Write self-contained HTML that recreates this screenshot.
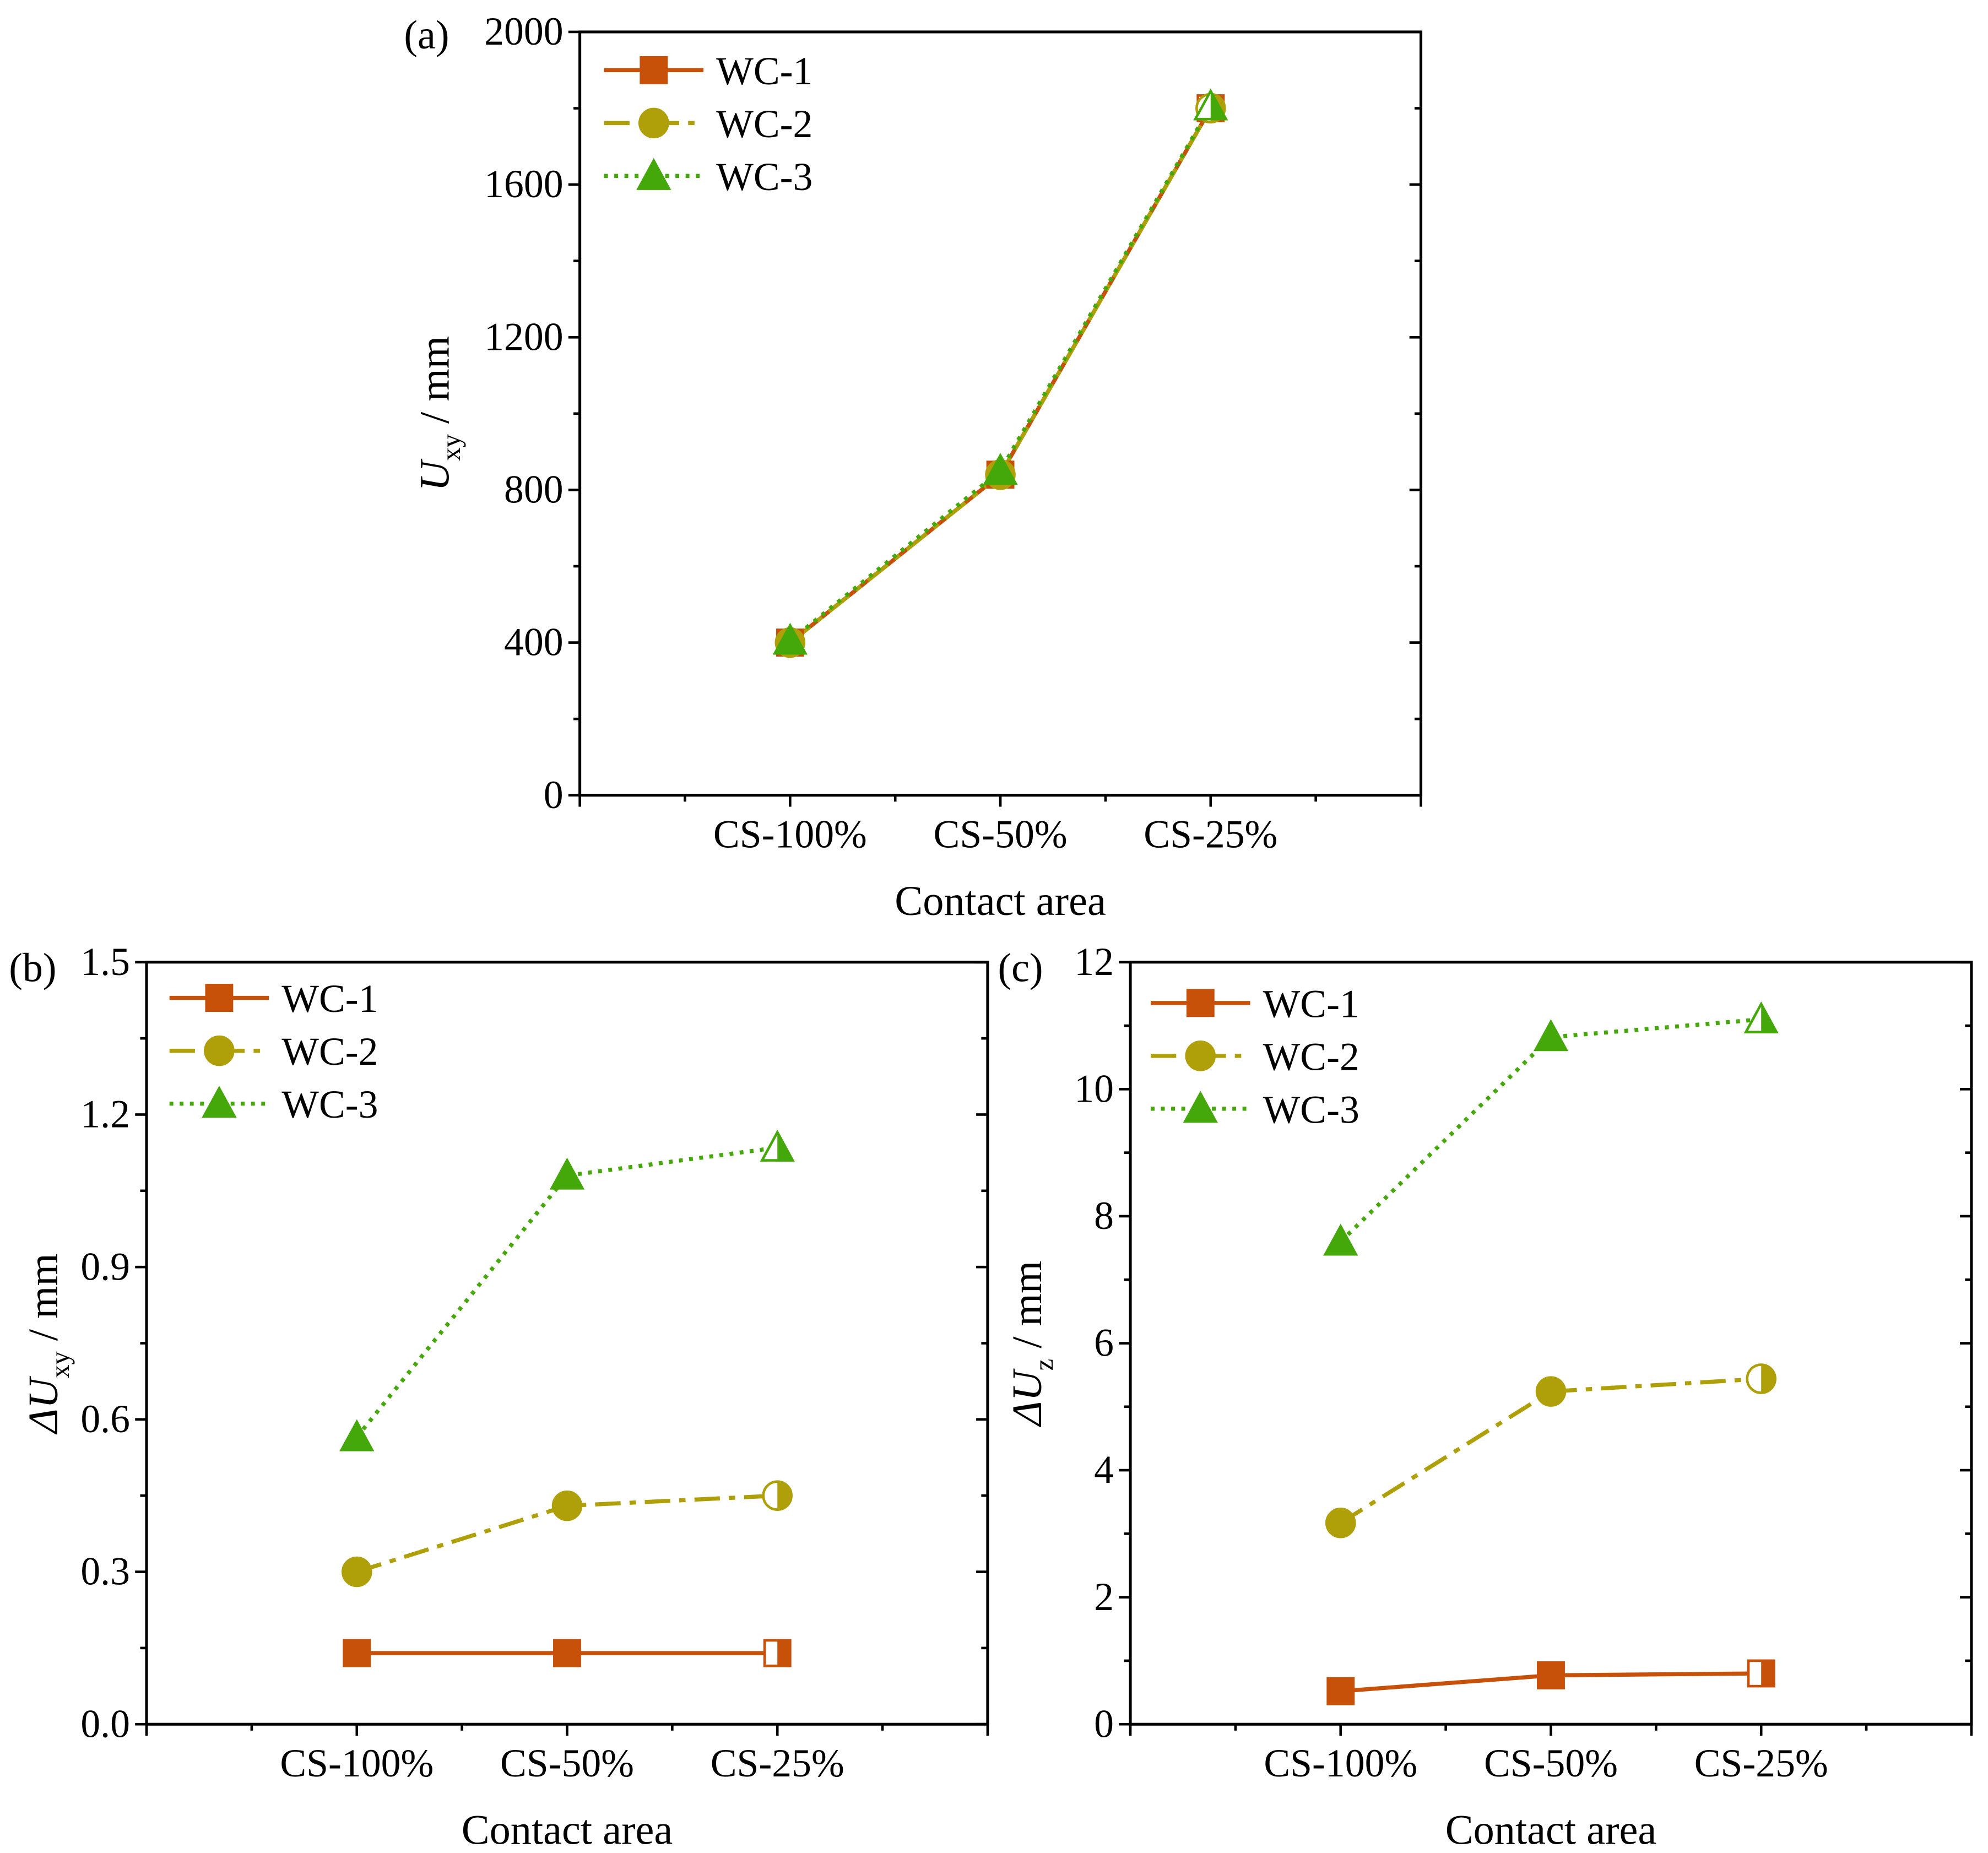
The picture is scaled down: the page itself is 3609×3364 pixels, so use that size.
<!DOCTYPE html>
<html><head><meta charset="utf-8"><style>
html,body{margin:0;padding:0;background:#fff}
svg{display:block}
text{font-family:"Liberation Serif","DejaVu Serif",serif;fill:#000}
</style></head><body>
<svg id="chart" width="3609" height="3364" viewBox="0 0 1560 1454" xmlns="http://www.w3.org/2000/svg"></svg>
<script>
const categories = ["CS-100%","CS-50%","CS-25%"];
const seriesNames = ["WC-1","WC-2","WC-3"];
const aWC1 = [400, 840, 1800];
const aWC2 = [400, 840, 1800];
const aWC3 = [405, 850, 1805];
const bWC1 = [0.14, 0.14, 0.14];
const bWC2 = [0.30, 0.43, 0.45];
const bWC3 = [0.565, 1.08, 1.135];
const cWC1 = [0.52, 0.77, 0.80];
const cWC2 = [3.17, 5.24, 5.44];
const cWC3 = [7.6, 10.82, 11.1];
const aTicks = [0, 400, 800, 1200, 1600, 2000];
const bTicks = [0.0, 0.3, 0.6, 0.9, 1.2, 1.5];
const bTickLabels = ["0.0","0.3","0.6","0.9","1.2","1.5"];
const cTicks = [0, 2, 4, 6, 8, 10, 12];

const NS="http://www.w3.org/2000/svg";
const svg=document.getElementById('chart');
const colors=["#C8510A","#AFA00A","#45A80A"];
const dashes=["none","20 7 5 7","3 5"];
function el(tag,attrs,parent){const e=document.createElementNS(NS,tag);for(const k in attrs)e.setAttribute(k,attrs[k]);(parent||svg).appendChild(e);return e;}
function txt(s,x,y,size,anchor,parent){const t=el('text',{x:x,y:y,'font-size':size,'text-anchor':anchor||'middle'},parent);t.textContent=s;return t;}

function marker(g,type,x,y,c,half){
  const r=10;
  let shape;
  if(type===0){shape=el('rect',{x:x-r,y:y-r,width:2*r,height:2*r,fill:half?'#fff':c,stroke:c,'stroke-width':2},g);
    if(half){el('rect',{x:x,y:y-r,width:r,height:2*r,fill:c},g);}}
  else if(type===1){shape=el('circle',{cx:x,cy:y,r:r+1,fill:half?'#fff':c,stroke:c,'stroke-width':2},g);
    if(half){el('path',{d:`M${x},${y-r-1} A${r+1},${r+1} 0 0 1 ${x},${y+r+1} Z`,fill:c},g);}}
  else {const h=12;shape=el('polygon',{points:`${x},${y-h} ${x+r+2},${y+h-2} ${x-r-2},${y+h-2}`,fill:half?'#fff':c,stroke:c,'stroke-width':2},g);
    if(half){el('polygon',{points:`${x},${y-h} ${x+r+2},${y+h-2} ${x},${y+h-2}`,fill:c},g);}}
  return shape;
}

function panel(opt){
  const g=el('g',{});
  
  
  const {x0,x1,y0,y1,ymax,ticks,labels}=opt;
  const X=i=>x0+(x1-x0)*(i+1)/4;
  const Y=v=>y1-(y1-y0)*v/ymax;
  const fr=el('rect',{x:x0,y:y0,width:x1-x0,height:y1-y0,fill:'none',stroke:'#000','stroke-width':2.2},g);
  
  
  const yax=el('g',{},g);
  
  
  ticks.forEach((v,i)=>{
    const y=Y(v);
    el('line',{x1:x0-9,y1:y,x2:x0,y2:y,stroke:'#000','stroke-width':2},yax);
    el('line',{x1:x1-9,y1:y,x2:x1,y2:y,stroke:'#000','stroke-width':2},yax);
    const t=txt(labels[i],x0-13,y+10,31,'end',yax);
    
    
    if(i<ticks.length-1){const ym=Y((v+ticks[i+1])/2);
      el('line',{x1:x0-5,y1:ym,x2:x0,y2:ym,stroke:'#000','stroke-width':2},yax);
      el('line',{x1:x1-5,y1:ym,x2:x1,y2:ym,stroke:'#000','stroke-width':2},yax);}
  });
  const xax=el('g',{},g);
  
  
  for(let k=0;k<=8;k++){const x=x0+(x1-x0)*k/8;const major=k%2===0;
    el('line',{x1:x,y1:y1,x2:x,y2:y1+(major?9:5),stroke:'#000','stroke-width':2},xax);}
  categories.forEach((c,i)=>{const t=txt(c,X(i),y1+41,31,'middle',xax);
    
    });
  const xt=txt('Contact area',(x0+x1)/2,y1+94,33,'middle',g);
  
  
  const yt=el('text',{x:0,y:0,'font-size':33,'text-anchor':'middle',transform:`translate(${opt.ytx},${(y0+y1)/2}) rotate(-90)`},g);
  
  
  yt.innerHTML=opt.ytitle;
  const pl=txt(opt.label,opt.lx,opt.ly,32,'start',g);
  
  
  opt.series.forEach((vals,s)=>{
    const sg=el('g',{},g);
    
    
    const pts=vals.map((v,i)=>X(i)+','+Y(v)).join(' ');
    const ln=el('polyline',{points:pts,fill:'none',stroke:colors[s],'stroke-width':3.2,'stroke-dasharray':dashes[s]},sg);
    
    
  });
  opt.series.forEach((vals,s)=>{
    vals.forEach((v,i)=>{const m=marker(g,s,X(i),Y(v),colors[s],i===2);
      
      });
  });
  const lg=el('g',{},g);
  
  
  seriesNames.forEach((n,s)=>{
    const y=opt.legY+s*41.5;
    const e=el('g',{},lg);
    
    
    el('line',{x1:opt.legX,y1:y,x2:opt.legX+78,y2:y,stroke:colors[s],'stroke-width':3.2,'stroke-dasharray':dashes[s]},e);
    marker(e,s,opt.legX+39,y,colors[s],false);
    txt(n,opt.legX+88,y+11,31,'start',e);
  });
}

panel({name:'panel-a',x0:455,x1:1115,y0:25,y1:624,ymax:2000,ticks:aTicks,labels:aTicks.map(String),
  series:[aWC1,aWC2,aWC3],ytx:352,ytitle:'<tspan font-style="italic">U</tspan><tspan font-size="21" dy="9">xy</tspan><tspan dy="-9"> / mm</tspan>',
  label:'(a)',lx:317,ly:38,legX:474,legY:55});
panel({name:'panel-b',x0:115,x1:775,y0:755,y1:1353,ymax:1.5,ticks:bTicks,labels:bTickLabels,
  series:[bWC1,bWC2,bWC3],ytx:45,ytitle:'<tspan font-style="italic">ΔU</tspan><tspan font-size="21" dy="9">xy</tspan><tspan dy="-9"> / mm</tspan>',
  label:'(b)',lx:7,ly:770,legX:133,legY:783});
panel({name:'panel-c',x0:887,x1:1547,y0:755,y1:1353,ymax:12,ticks:cTicks,labels:cTicks.map(String),
  series:[cWC1,cWC2,cWC3],ytx:817,ytitle:'<tspan font-style="italic">ΔU</tspan><tspan font-size="21" dy="9">z</tspan><tspan dy="-9"> / mm</tspan>',
  label:'(c)',lx:783,ly:770,legX:903,legY:787});
</script>
</body></html>
